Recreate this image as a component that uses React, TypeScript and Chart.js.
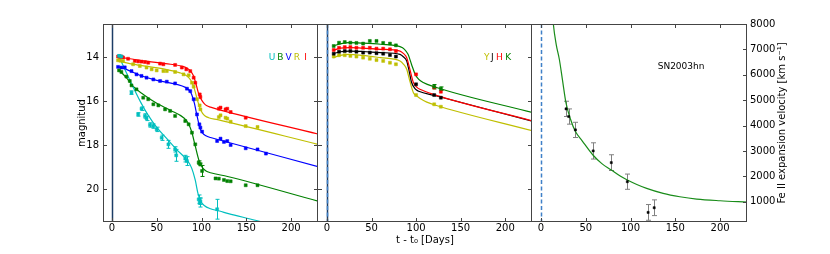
import React, { useEffect, useRef } from 'react';
import { Chart, registerables } from 'chart.js';

Chart.register(...registerables);

const FONT = '"DejaVu Sans", Verdana, sans-serif';

// ---------- axes ----------
const X_MIN = -10;
const X_MAX = 230;
const X_TICKS = [0, 50, 100, 150, 200];
const MAG_MIN = 12.5;
const MAG_MAX = 21.5;
const MAG_TICKS = [14, 16, 18, 20];
const VEL_MIN = 200;
const VEL_MAX = 8000;
const VEL_TICKS = [1000, 2000, 3000, 4000, 5000, 6000, 7000, 8000];

// ---------- optical photometry ----------
const U_DAYS = [7.9, 10.5, 21.8, 29.3, 33, 36.8, 38.6, 42.4, 46.2, 49.9, 55.5, 63, 70.5, 71.7, 81.8, 83.7, 96.8, 97.9, 98.7, 117.4];
const U_MAGS = [13.95, 13.98, 15.62, 16.61, 16.35, 16.68, 16.79, 17.09, 17.14, 17.29, 17.67, 17.97, 18.2, 18.47, 18.62, 18.73, 20.47, 20.62, 20.55, 20.92];
const U_ERRS = [0.05, 0.05, 0.08, 0.08, 0.08, 0.1, 0.1, 0.1, 0.1, 0.1, 0.12, 0.18, 0.12, 0.27, 0.15, 0.2, 0.2, 0.2, 0.15, 0.45];

const B_DAYS = [7.9, 10.5, 16.1, 19.9, 21.8, 27.4, 34.9, 40.5, 46.2, 51.8, 59.3, 64.9, 70.5, 81.8, 85.6, 89.3, 93, 96.8, 98.7, 100.6, 115.6, 119.3, 125, 128.7, 132.5, 149.3, 162.5];
const B_MAGS = [14.61, 14.68, 14.89, 15.09, 15.29, 15.47, 15.85, 15.92, 16.15, 16.2, 16.38, 16.45, 16.68, 16.91, 17.06, 17.44, 17.97, 18.8, 18.88, 19.18, 19.52, 19.53, 19.59, 19.64, 19.65, 19.83, 19.83];
const B_ERRS = [0, 0, 0, 0, 0, 0, 0, 0, 0, 0, 0, 0, 0, 0, 0, 0, 0, 0.08, 0.06, 0.25, 0, 0, 0, 0, 0, 0, 0];

const V_DAYS = [6.8, 10.5, 14.3, 21.8, 27.4, 33, 38.6, 46.2, 53.7, 61.2, 70.5, 83.7, 87.4, 91.2, 94.9, 97.6, 98.7, 100.6, 117.4, 121.2, 125, 128.7, 132.5, 149.3, 162.5, 171.9];
const V_MAGS = [14.45, 14.48, 14.47, 14.64, 14.79, 14.86, 14.94, 15.02, 15.09, 15.12, 15.2, 15.44, 15.55, 15.92, 16.61, 17.06, 17.21, 17.39, 17.82, 17.71, 17.86, 17.82, 18.0, 18.15, 18.2, 18.39];

const R_DAYS = [6.8, 9.4, 12.4, 23.6, 31.1, 38.6, 44.3, 49.9, 57.4, 61.2, 70.5, 79.9, 85.6, 89.3, 91.2, 94.9, 97.9, 98.7, 119.3, 121.2, 126.8, 128.7, 132.5, 149.3, 162.5];
const R_MAGS = [14.15, 14.17, 14.18, 14.33, 14.41, 14.48, 14.56, 14.61, 14.64, 14.64, 14.68, 14.79, 14.83, 15.17, 15.35, 15.92, 16.2, 16.38, 16.73, 16.65, 16.76, 16.8, 16.94, 17.14, 17.18];

const I_DAYS = [6.8, 8.6, 10.5, 12.4, 18, 25.5, 29.3, 33, 36.8, 40.5, 53.7, 57.4, 70.5, 78, 83, 87.4, 91.2, 93, 98, 98.7, 119.3, 121.2, 126.8, 128.7, 132.5, 149.3];
const I_MAGS = [13.98, 14.0, 13.98, 14.02, 14.08, 14.18, 14.2, 14.21, 14.23, 14.26, 14.3, 14.33, 14.36, 14.48, 14.56, 14.64, 14.94, 15.17, 15.7, 15.82, 16.35, 16.3, 16.38, 16.35, 16.5, 16.76];

// optical model curves
const U_FIT_DAYS = [7.5, 16, 24, 32, 40, 50, 61, 72, 84, 89, 93, 96, 99, 103, 110, 120, 130, 160, 230];
const U_FIT_MAGS = [13.95, 14.7, 15.4, 16.05, 16.62, 17.2, 17.7, 18.2, 18.7, 19.05, 19.6, 20.2, 20.55, 20.75, 20.9, 21.0, 21.12, 21.42, 22.2];
const B_FIT_DAYS = [7, 16, 24, 35, 50, 65, 80, 85, 89, 93, 97, 101, 105, 110, 129, 230];
const B_FIT_MAGS = [14.56, 14.94, 15.35, 15.7, 16.1, 16.42, 16.76, 17.0, 17.4, 18.05, 18.68, 19.03, 19.18, 19.26, 19.43, 20.55];
const V_FIT_DAYS = [7, 16, 31, 50, 72, 82, 86, 89, 92, 95, 98, 101, 105, 110, 117, 230];
const V_FIT_MAGS = [14.45, 14.56, 14.83, 15.06, 15.24, 15.38, 15.5, 15.7, 16.1, 16.68, 17.2, 17.45, 17.58, 17.66, 17.74, 18.98];
const R_FIT_DAYS = [7, 20, 40, 60, 76, 82, 86, 89, 92, 95, 98, 101, 104, 108, 118, 230];
const R_FIT_MAGS = [14.18, 14.3, 14.43, 14.56, 14.72, 14.82, 14.95, 15.12, 15.45, 15.9, 16.3, 16.55, 16.68, 16.76, 16.85, 17.97];
const I_FIT_DAYS = [7, 20, 40, 60, 80, 85, 88, 91, 94, 97, 100, 103, 106, 110, 120, 230];
const I_FIT_MAGS = [14.0, 14.08, 14.2, 14.3, 14.44, 14.54, 14.65, 14.85, 15.25, 15.7, 15.95, 16.12, 16.22, 16.28, 16.4, 17.5];

// ---------- NIR photometry ----------
const NIR_DAYS = [7.6, 13.6, 20, 26.3, 33.1, 40.6, 48.1, 55.6, 63.1, 70.7, 77.4, 100, 120.3, 127.8];
const Y_MAGS = [13.98, 13.92, 13.92, 13.95, 13.98, 14.03, 14.08, 14.14, 14.18, 14.26, 14.33, 15.73, 16.15, 16.26];
const J_MAGS = [13.85, 13.76, 13.73, 13.73, 13.76, 13.8, 13.8, 13.83, 13.85, 13.91, 13.98, 15.24, 15.73, 15.85];
const H_MAGS = [13.68, 13.58, 13.55, 13.55, 13.58, 13.58, 13.58, 13.62, 13.62, 13.65, 13.73, 14.79, 15.39, 15.58];
const K_DAYS = [7.6, 13.6, 20, 26.3, 33.1, 40.6, 48.1, 55.6, 63.1, 70.7, 77.4, 120.3, 127.8];
const K_MAGS = [13.5, 13.35, 13.32, 13.35, 13.36, 13.39, 13.27, 13.27, 13.36, 13.39, 13.47, 15.35, 15.44];
const K_ERRS = [0, 0, 0, 0, 0, 0, 0, 0, 0, 0, 0, 0.1, 0.08];

const Y_FIT_DAYS = [7, 15, 25, 40, 60, 82, 86, 89.5, 93, 97, 101, 105, 112, 121, 231];
const Y_FIT_MAGS = [14.03, 13.93, 13.88, 13.93, 14.03, 14.18, 14.33, 14.56, 15.1, 15.62, 15.78, 15.9, 16.05, 16.18, 17.36];
const J_FIT_DAYS = [7, 15, 25, 40, 60, 82, 86, 89.5, 92, 95, 99, 103, 121, 231];
const J_FIT_MAGS = [13.85, 13.76, 13.73, 13.75, 13.8, 13.88, 14.0, 14.18, 14.6, 15.16, 15.45, 15.56, 15.75, 16.93];
const H_FIT_DAYS = [7, 15, 25, 40, 60, 82, 86, 89.5, 93, 97, 101, 105, 121, 231];
const H_FIT_MAGS = [13.7, 13.6, 13.57, 13.6, 13.65, 13.73, 13.85, 14.03, 14.55, 15.16, 15.38, 15.48, 15.72, 16.91];
const K_FIT_DAYS = [7, 15, 25, 40, 60, 82, 87, 91, 95, 99, 103, 108, 120, 231];
const K_FIT_MAGS = [13.5, 13.4, 13.35, 13.37, 13.42, 13.53, 13.65, 13.88, 14.35, 14.79, 15.02, 15.16, 15.35, 16.53];

// ---------- Fe II velocity ----------
const VEL_DAYS = [28, 31, 38.5, 58.3, 78.5, 96.4, 119.6, 126.4];
const VEL_VALUES = [4657, 4355, 3828, 3000, 2539, 1788, 578, 762];
const VEL_ERRS = [300, 300, 300, 320, 310, 300, 310, 310];
const VEL_FIT_DAYS = [11, 13.8, 17, 20.6, 24, 28, 33, 38.5, 46, 58, 68, 78.5, 88, 96.4, 107, 118, 136.4, 155, 173.8, 200, 230];
const VEL_FIT_VALUES = [9300, 8000, 7200, 6592, 5800, 4880, 4250, 3763, 3400, 2840, 2500, 2249, 2020, 1854, 1680, 1525, 1328, 1196, 1104, 1038, 986];

// ---------- colours ----------
const C_U = '#00bfbf';
const C_B = '#008000';
const C_V = '#0000ff';
const C_R = '#bfbf00';
const C_I = '#ff0000';
const C_K = '#008000';
const C_H = '#ff0000';
const C_J = '#000000';
const C_Y = '#bfbf00';

const zip = (xs: number[], ys: number[]) => xs.map((x, i) => ({ x, y: ys[i] }));

const pointSet = (data: any[], color: string, errors?: number[], yAxisID = 'y', r = 2.1) => ({
  data,
  showLine: false,
  pointStyle: 'rect',
  pointRadius: r,
  pointHoverRadius: r,
  pointBackgroundColor: color,
  pointBorderColor: color,
  pointBorderWidth: 0.5,
  borderColor: color,
  backgroundColor: color,
  errors,
  yAxisID,
  order: 0,
});

const lineSet = (data: any[], color: string, yAxisID = 'y') => ({
  data,
  borderColor: color,
  backgroundColor: color,
  borderWidth: 1.2,
  pointRadius: 0,
  cubicInterpolationMode: 'monotone',
  yAxisID,
  order: 1,
});

const setTicks = (vals: number[]) => (s: any) => {
  s.ticks = vals.map((v) => ({ value: v }));
};

const tickFont = { family: FONT, size: 10 };

const deco = {
  id: 'deco',
  beforeDatasetsDraw(chart: any, _a: any, opts: any) {
    const { ctx, chartArea: a, scales } = chart;
    const xs = scales.x;
    ctx.save();
    ctx.beginPath();
    ctx.rect(a.left, a.top, a.right - a.left, a.bottom - a.top);
    ctx.clip();
    const px = Math.round(xs.getPixelForValue(0)) + 0.5;
    if (opts.vSolid) {
      ctx.strokeStyle = '#1c3d66';
      ctx.lineWidth = 1.5;
      ctx.setLineDash([]);
      ctx.beginPath();
      ctx.moveTo(px, a.top);
      ctx.lineTo(px, a.bottom);
      ctx.stroke();
    }
    if (opts.vDashed) {
      ctx.strokeStyle = '#3f80c8';
      ctx.lineWidth = 1.5;
      ctx.setLineDash([4, 2.5]);
      ctx.beginPath();
      ctx.moveTo(px, a.top);
      ctx.lineTo(px, a.bottom);
      ctx.stroke();
      ctx.setLineDash([]);
    }
    // error bars
    chart.data.datasets.forEach((ds: any) => {
      if (!ds.errors) return;
      const ys = scales[ds.yAxisID || 'y'];
      ctx.strokeStyle = ds.errorColor || ds.borderColor;
      ctx.lineWidth = 1;
      const cap = ds.capHalf || 2;
      ds.data.forEach((p: any, j: number) => {
        const e = ds.errors[j];
        if (!e) return;
        const x = Math.round(xs.getPixelForValue(p.x)) + 0.5;
        const y1 = ys.getPixelForValue(p.y - e);
        const y2 = ys.getPixelForValue(p.y + e);
        ctx.beginPath();
        ctx.moveTo(x, y1);
        ctx.lineTo(x, y2);
        ctx.moveTo(x - cap, y1);
        ctx.lineTo(x + cap, y1);
        ctx.moveTo(x - cap, y2);
        ctx.lineTo(x + cap, y2);
        ctx.stroke();
      });
    });
    ctx.restore();
  },
  afterDraw(chart: any, _a: any, opts: any) {
    const { ctx, chartArea: a, scales } = chart;
    ctx.save();
    ctx.strokeStyle = '#444444';
    ctx.lineWidth = 1;
    ctx.beginPath();
    ctx.moveTo(a.left, a.top + 0.5);
    ctx.lineTo(a.right, a.top + 0.5);
    ctx.moveTo(a.left, a.bottom - 0.5);
    ctx.lineTo(a.right, a.bottom - 0.5);
    ctx.moveTo(a.right - 0.5, a.top);
    ctx.lineTo(a.right - 0.5, a.bottom);
    if (!opts.noLeft) {
      ctx.moveTo(a.left + 0.5, a.top);
      ctx.lineTo(a.left + 0.5, a.bottom);
    }
    ctx.stroke();
    const TL = 4;
    ctx.beginPath();
    X_TICKS.forEach((v) => {
      const x = Math.round(scales.x.getPixelForValue(v)) + 0.5;
      ctx.moveTo(x, a.top);
      ctx.lineTo(x, a.top + TL);
      ctx.moveTo(x, a.bottom);
      ctx.lineTo(x, a.bottom - TL);
    });
    if (opts.leftTicks) {
      const s = scales[opts.leftTicks.axis];
      opts.leftTicks.values.forEach((v: number) => {
        const y = Math.round(s.getPixelForValue(v)) + 0.5;
        ctx.moveTo(a.left, y);
        ctx.lineTo(a.left + TL, y);
      });
    }
    if (opts.rightTicks) {
      const s = scales[opts.rightTicks.axis];
      opts.rightTicks.values.forEach((v: number) => {
        const y = Math.round(s.getPixelForValue(v)) + 0.5;
        ctx.moveTo(a.right, y);
        ctx.lineTo(a.right - TL, y);
      });
    }
    ctx.stroke();
    (opts.texts || []).forEach((t: any) => {
      ctx.save();
      ctx.font = `${t.size || 10}px ${FONT}`;
      ctx.fillStyle = t.color || '#000';
      ctx.textAlign = t.align || 'center';
      ctx.textBaseline = 'middle';
      ctx.translate(t.x, t.y);
      if (t.rotate) ctx.rotate(t.rotate);
      ctx.fillText(t.text, 0, 0);
      ctx.restore();
    });
    ctx.restore();
  },
};

const xScale = (showLabels: boolean) => ({
  type: 'linear',
  position: 'bottom',
  min: X_MIN,
  max: X_MAX,
  afterBuildTicks: setTicks(X_TICKS),
  afterFit: (s: any) => {
    s.height = 32;
  },
  grid: { display: false, drawTicks: false },
  border: { display: false },
  ticks: {
    display: showLabels,
    padding: 0,
    color: '#000',
    font: tickFont,
    maxRotation: 0,
    autoSkip: false,
    callback: (v: any) => String(v),
  },
});

const magScale = (showLabels: boolean, width: number) => ({
  type: 'linear',
  position: 'left',
  reverse: true,
  min: MAG_MIN,
  max: MAG_MAX,
  display: showLabels,
  afterBuildTicks: setTicks(MAG_TICKS),
  afterFit: (s: any) => {
    s.width = width;
  },
  grid: { display: false, drawTicks: false },
  border: { display: false },
  ticks: {
    padding: 4,
    color: '#000',
    font: tickFont,
    autoSkip: false,
    callback: (v: any) => String(v),
  },
});

const baseOptions = (padding: any, scales: any, deco: any) => ({
  responsive: false,
  maintainAspectRatio: false,
  animation: false,
  devicePixelRatio: 1,
  events: [],
  layout: { padding, autoPadding: false },
  scales,
  plugins: {
    legend: { display: false },
    tooltip: { enabled: false },
    deco,
  },
});

function buildConfigs() {
  const p1 = {
    type: 'line',
    data: {
      datasets: [
        pointSet(zip(U_DAYS, U_MAGS), C_U, U_ERRS),
        pointSet(zip(B_DAYS, B_MAGS), C_B, B_ERRS),
        pointSet(zip(V_DAYS, V_MAGS), C_V),
        pointSet(zip(R_DAYS, R_MAGS), C_R),
        pointSet(zip(I_DAYS, I_MAGS), C_I),
        lineSet(zip(U_FIT_DAYS, U_FIT_MAGS), C_U),
        lineSet(zip(B_FIT_DAYS, B_FIT_MAGS), C_B),
        lineSet(zip(V_FIT_DAYS, V_FIT_MAGS), C_V),
        lineSet(zip(R_FIT_DAYS, R_FIT_MAGS), C_R),
        lineSet(zip(I_FIT_DAYS, I_FIT_MAGS), C_I),
      ],
    },
    options: baseOptions(
      { left: 0, right: 512, top: 24, bottom: 0 },
      { x: xScale(true), y: magScale(true, 103) },
      {
        vSolid: true,
        vDashed: false,
        leftTicks: { axis: 'y', values: MAG_TICKS },
        rightTicks: { axis: 'y', values: MAG_TICKS },
        texts: [
          { text: 'magnitud', x: 82, y: 123, rotate: -Math.PI / 2 },
          { text: 'U', x: 272, y: 58, color: C_U, size: 9 },
          { text: 'B', x: 280.3, y: 58, color: C_B, size: 9 },
          { text: 'V', x: 288.7, y: 58, color: C_V, size: 9 },
          { text: 'R', x: 297, y: 58, color: C_R, size: 9 },
          { text: 'I', x: 305.6, y: 58, color: C_I, size: 9 },
        ],
      }
    ),
    plugins: [deco],
  };

  const p2 = {
    type: 'line',
    data: {
      datasets: [
        pointSet(zip(K_DAYS, K_MAGS), C_K, K_ERRS),
        pointSet(zip(NIR_DAYS, H_MAGS), C_H),
        pointSet(zip(NIR_DAYS, J_MAGS), C_J),
        pointSet(zip(NIR_DAYS, Y_MAGS), C_Y),
        lineSet(zip(K_FIT_DAYS, K_FIT_MAGS), C_K),
        lineSet(zip(H_FIT_DAYS, H_FIT_MAGS), C_H),
        lineSet(zip(J_FIT_DAYS, J_FIT_MAGS), C_J),
        lineSet(zip(Y_FIT_DAYS, Y_FIT_MAGS), C_Y),
      ],
    },
    options: baseOptions(
      { left: 318, right: 298, top: 24, bottom: 0 },
      { x: xScale(true), y: magScale(false, 0) },
      {
        vSolid: true,
        vDashed: true,
        noLeft: true,
        leftTicks: { axis: 'y', values: MAG_TICKS },
        rightTicks: { axis: 'y', values: MAG_TICKS },
        texts: [
          { text: 't - t\u2080 [Days]', x: 425, y: 240 },
          { text: 'Y', x: 486.7, y: 58, color: C_Y, size: 9 },
          { text: 'J', x: 492.3, y: 58, color: C_J, size: 9 },
          { text: 'H', x: 499.3, y: 58, color: C_H, size: 9 },
          { text: 'K', x: 508.3, y: 58, color: C_K, size: 9 },
        ],
      }
    ),
    plugins: [deco],
  };

  const velPts: any = pointSet(zip(VEL_DAYS, VEL_VALUES), '#000000', VEL_ERRS, 'v', 1.5);
  velPts.errorColor = '#808080';
  velPts.capHalf = 2.5;

  const p3 = {
    type: 'line',
    data: {
      datasets: [velPts, lineSet(zip(VEL_FIT_DAYS, VEL_FIT_VALUES), '#1a8c1a', 'v')],
    },
    options: baseOptions(
      { left: 532, right: 43, top: 24, bottom: 0 },
      {
        x: xScale(true),
        v: {
          type: 'linear',
          position: 'right',
          min: VEL_MIN,
          max: VEL_MAX,
          afterBuildTicks: setTicks(VEL_TICKS),
          afterFit: (s: any) => {
            s.width = 40;
          },
          grid: { display: false, drawTicks: false },
          border: { display: false },
          ticks: {
            padding: 3,
            color: '#000',
            font: tickFont,
            autoSkip: false,
            callback: (v: any) => String(v),
          },
        },
      },
      {
        vSolid: false,
        vDashed: true,
        noLeft: true,
        rightTicks: { axis: 'v', values: VEL_TICKS },
        texts: [
          { text: 'SN2003hn', x: 657.7, y: 66.7, size: 9, align: 'left' },
          { text: 'Fe II expansion velocity [km s\u207B\u00B9]', x: 782, y: 123, rotate: -Math.PI / 2 },
        ],
      }
    ),
    plugins: [deco],
  };

  return [p1, p2, p3];
}

export default function App() {
  const r1 = useRef<HTMLCanvasElement>(null);
  const r2 = useRef<HTMLCanvasElement>(null);
  const r3 = useRef<HTMLCanvasElement>(null);

  useEffect(() => {
    const cfgs = buildConfigs();
    const refs = [r1, r2, r3];
    const charts = refs.map((r, i) => new Chart(r.current as HTMLCanvasElement, cfgs[i] as any));
    return () => charts.forEach((c) => c.destroy());
  }, []);

  const cs: React.CSSProperties = { position: 'absolute', left: 0, top: 0, width: 830, height: 254 };
  return (
    <div style={{ position: 'absolute', left: 0, top: 0, width: 830, height: 254, background: '#fff' }}>
      <canvas ref={r1} width={830} height={254} style={cs} />
      <canvas ref={r2} width={830} height={254} style={cs} />
      <canvas ref={r3} width={830} height={254} style={cs} />
    </div>
  );
}
